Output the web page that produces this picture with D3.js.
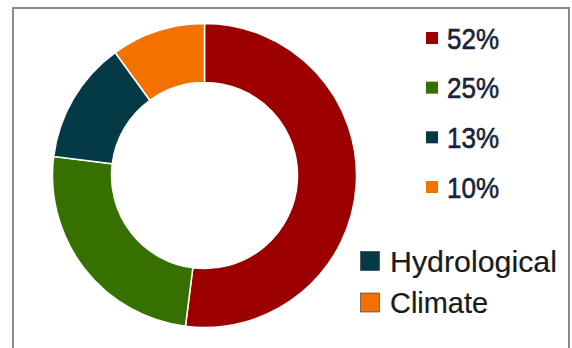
<!DOCTYPE html>
<html><head><meta charset="utf-8">
<script src="https://cdn.jsdelivr.net/npm/d3@7"></script>
<style>html,body{margin:0;padding:0;background:#fff;}svg{display:block;}</style>
</head><body>
<svg id="c" width="572" height="348"></svg>
<script>
const values = [52, 25, 13, 10];
const percentLabels = ["52%", "25%", "13%", "10%"];
const colors = ["#9c0000", "#367100", "#033a46", "#f27100"];
const legendLabels = ["Hydrological", "Climate"];
const legendColorIndex = [2, 3];

const svg = d3.select("#c");
svg.append("rect").attr("x", 13).attr("y", 8).attr("width", 556).attr("height", 360)
  .attr("fill", "#fff").attr("stroke", "#8c8c8c").attr("stroke-width", 2);

const cx = 204.5, cy = 175.5, rOuter = 152, rInner = 93;
const pie = d3.pie().sort(null).value(d => d);
const arc = d3.arc().innerRadius(rInner).outerRadius(rOuter);
const g = svg.append("g").attr("transform", `translate(${cx},${cy})`);
g.selectAll("path").data(pie(values)).join("path")
  .attr("d", arc).attr("fill", (d, i) => colors[i])
  .attr("stroke", "#fff").attr("stroke-width", 1.5);

// percentage legend
const yRow = d3.scalePoint().domain(d3.range(values.length)).range([38, 187]);
const lg = svg.append("g");
lg.selectAll("rect").data(values).join("rect")
  .attr("x", 426).attr("y", (d, i) => yRow(i) - 6).attr("width", 12).attr("height", 12)
  .attr("fill", (d, i) => colors[i]);
lg.selectAll("text").data(percentLabels).join("text")
  .attr("x", 447).attr("y", (d, i) => yRow(i) + 10.5)
  .attr("font-family", "Liberation Sans, Arial, sans-serif").attr("font-size", 30)
  .attr("fill", "#18223a").attr("stroke", "#18223a").attr("stroke-width", 0.6)
  .attr("textLength", 52).attr("lengthAdjust", "spacingAndGlyphs")
  .text(d => d);

// category legend
const yCat = d3.scalePoint().domain(d3.range(legendLabels.length)).range([261, 302.5]);
const catWidths = [167, 98];
const cg = svg.append("g");
cg.selectAll("rect").data(legendLabels).join("rect")
  .attr("x", 360.5).attr("y", (d, i) => yCat(i) - 9.5).attr("width", 19).attr("height", 19)
  .attr("fill", (d, i) => colors[legendColorIndex[i]])
  .attr("stroke", "#333").attr("stroke-width", 0.6);
cg.selectAll("text").data(legendLabels).join("text")
  .attr("x", 390).attr("y", (d, i) => yCat(i) + 10.5)
  .attr("font-family", "Liberation Sans, Arial, sans-serif").attr("font-size", 29)
  .attr("fill", "#1a1a1a").attr("stroke", "#1a1a1a").attr("stroke-width", 0.2)
  .attr("textLength", (d, i) => catWidths[i]).attr("lengthAdjust", "spacingAndGlyphs")
  .text(d => d);
</script>
</body></html>
